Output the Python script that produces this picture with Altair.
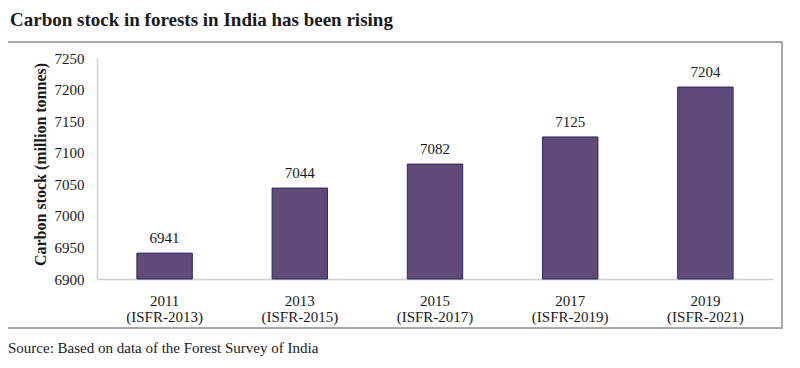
import altair as alt
import pandas as pd

years = ["2011", "2013", "2015", "2017", "2019"]
reports = ["(ISFR-2013)", "(ISFR-2015)", "(ISFR-2017)", "(ISFR-2019)", "(ISFR-2021)"]
values = [6941, 7044, 7082, 7125, 7204]
y_ticks = [6900, 6950, 7000, 7050, 7100, 7150, 7200, 7250]

title_text = "Carbon stock in forests in India has been rising"
source_text = "Source: Based on data of the Forest Survey of India"
y_title = "Carbon stock (million tonnes)"

df = pd.DataFrame({
    "cat": [f"{y}\n{r}" for y, r in zip(years, reports)],
    "value": values,
    "base": [y_ticks[0]] * len(values),
})
one = pd.DataFrame({"k": [0]})

FONT = "Liberation Serif"
W, H = 676, 221

x_enc = alt.X(
    "cat:N", sort=None, title=None,
    scale=alt.Scale(paddingInner=0.59, paddingOuter=0.295),
    axis=alt.Axis(
        labelExpr="split(datum.value, '\\n')",
        labelAngle=0, labelFont=FONT, labelFontSize=15, labelColor="#1a1a1a",
        labelLineHeight=16, labelBaseline="top", labelPadding=14,
        ticks=False, domainColor="#d0d0d0", domainWidth=1.5,
    ),
)
y_enc = alt.Y(
    "value:Q", title=y_title,
    scale=alt.Scale(domain=[6900, 7250], nice=False, zero=False),
    axis=alt.Axis(
        values=y_ticks, format="d", labelOverlap=False, grid=False, ticks=False,
        labelPadding=13,
        labelFont=FONT, labelFontSize=15, labelColor="#1a1a1a",
        domainColor="#d0d0d0", domainWidth=1.5,
        titleFont=FONT, titleFontSize=16, titleFontWeight="bold", titleColor="#1a1a1a",
        titleX=-57, titleY=106, titleAngle=-90, titleAlign="center", titleBaseline="middle",
    ),
)

box = alt.Chart(one).mark_rect(fillOpacity=0, stroke="#8c8c8c", strokeWidth=1.5).encode(
    x=alt.value(-90), x2=alt.value(685), y=alt.value(-16), y2=alt.value(270)
)

bars = alt.Chart(df).mark_bar(color="#5f4a7a", stroke="#2b2d5e", strokeWidth=1).encode(
    x=x_enc, y=y_enc, y2="base:Q"
)

labels = alt.Chart(df).mark_text(
    font=FONT, fontSize=15, color="#1a1a1a", dy=-10, baseline="alphabetic"
).encode(
    x=x_enc,
    y=y_enc,
    text=alt.Text("value:Q", format="d"),
)

title = alt.Chart(one).mark_text(
    text=title_text, font=FONT, fontSize=19, fontWeight="bold", color="#1a1a1a",
    align="left", baseline="alphabetic"
).encode(x=alt.value(-87), y=alt.value(-32))

source = alt.Chart(one).mark_text(
    text=source_text, font=FONT, fontSize=15, color="#1a1a1a",
    align="left", baseline="alphabetic"
).encode(x=alt.value(-89), y=alt.value(295))

chart = alt.layer(box, bars, labels, title, source).properties(
    width=W, height=H,
    autosize=alt.AutoSizeParams(type="none"),
    padding={"left": 89, "top": 50, "right": 19, "bottom": 77},
    background="white",
).configure_view(stroke=None)

chart.save("out.html", embed_options={"renderer": "svg", "actions": False})
